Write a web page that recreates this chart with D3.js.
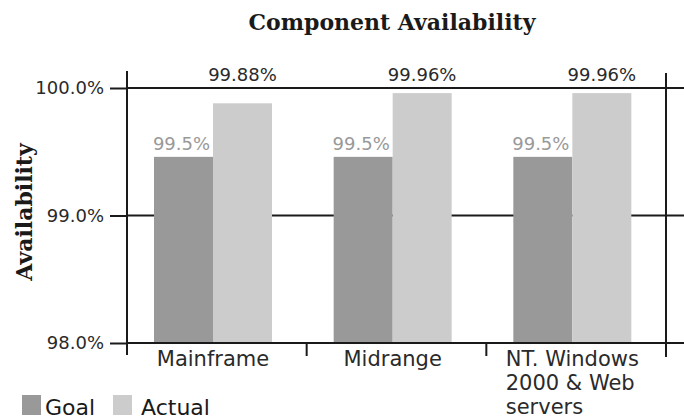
<!DOCTYPE html>
<html lang="en">
<head>
  <meta charset="UTF-8">
  <title>Component Availability</title>
  <script src="https://d3js.org/d3.v7.min.js"></script>
  <style>
    body { margin: 0; background: #fff; }
    svg { display: block; }
    .num { font-family: "DejaVu Sans", sans-serif; font-size: 18px; }
    .cat { font-family: "DejaVu Sans", sans-serif; font-size: 21px; fill: #2a2a2a; }
    .serif { font-family: "DejaVu Serif", serif; font-weight: bold; font-size: 22px; fill: #1a1a1a; }
  </style>
</head>
<body>
<div id="chart"></div>
<script>
  // data
  const categories = ["Mainframe", "Midrange", "NT. Windows 2000 & Web servers"];
  const categoryLines = [["Mainframe"], ["Midrange"], ["NT. Windows", "2000 & Web", "servers"]];
  const series = ["Goal", "Actual"];
  const goalValues = [99.46, 99.46, 99.46];
  const actualValues = [99.88, 99.96, 99.96];
  const yTicks = [98, 99, 100];

  const width = 684, height = 419;
  const colors = { Goal: "#999999", Actual: "#cccccc" };
  const lineColor = "#1a1a1a";
  const lineW = 2;

  const svg = d3.select("#chart").append("svg")
    .attr("width", width)
    .attr("height", height);

  const x0 = d3.scaleBand().domain(categories).range([127, 666]);
  const x1 = d3.scaleBand().domain(series).range([27, 145]);
  const y = d3.scaleLinear().domain([98, 100]).range([343, 88]);

  // title
  svg.append("text")
    .attr("class", "serif")
    .attr("x", 392).attr("y", 30)
    .attr("text-anchor", "middle")
    .text("Component Availability");

  // y axis title
  svg.append("text")
    .attr("class", "serif")
    .attr("transform", "translate(32,212) rotate(-90)")
    .attr("text-anchor", "middle")
    .text("Availability");

  // gridlines (behind bars), run past the right axis
  svg.append("g").selectAll("line")
    .data(yTicks)
    .join("line")
    .attr("x1", 127).attr("x2", width)
    .attr("y1", d => y(d)).attr("y2", d => y(d))
    .attr("stroke", lineColor).attr("stroke-width", lineW);

  // bars
  const rows = categories.map((c, i) => ({ cat: c, Goal: goalValues[i], Actual: actualValues[i] }));
  const groups = svg.append("g").selectAll("g")
    .data(rows)
    .join("g")
    .attr("transform", d => `translate(${x0(d.cat)},0)`);

  groups.selectAll("rect")
    .data(d => series.map(s => ({ key: s, value: d[s] })))
    .join("rect")
    .attr("x", d => x1(d.key))
    .attr("width", x1.bandwidth())
    .attr("y", d => y(d.value))
    .attr("height", d => y(98) - y(d.value) - 1)
    .attr("fill", d => colors[d.key]);

  // value labels
  groups.append("text")
    .attr("class", "num")
    .attr("x", x1("Goal") + x1.bandwidth() / 2 - 2)
    .attr("y", d => y(d.Goal) - 7)
    .attr("text-anchor", "middle")
    .attr("fill", "#999")
    .text(d => d3.format(".1f")(d.Goal) + "%");

  groups.append("text")
    .attr("class", "num")
    .attr("x", x1("Actual") + x1.bandwidth() / 2)
    .attr("y", y(100) - 7)
    .attr("text-anchor", "middle")
    .attr("fill", "#2a2a2a")
    .text(d => d3.format(".2f")(d.Actual) + "%");

  // y axis ticks and labels
  const yAxis = svg.append("g")
    .attr("transform", "translate(127,0)")
    .call(d3.axisLeft(y).tickValues(yTicks).tickSize(17).tickPadding(6)
      .tickFormat(d => d3.format(".1f")(d) + "%"));
  yAxis.select(".domain").remove();
  yAxis.selectAll(".tick line").attr("stroke", lineColor).attr("stroke-width", lineW);
  yAxis.selectAll(".tick text")
    .attr("class", "num")
    .attr("fill", "#2a2a2a");
  yAxis.attr("font-size", null).attr("font-family", null);

  // left and right axis lines
  svg.append("line").attr("x1", 127).attr("x2", 127).attr("y1", 71).attr("y2", 355)
    .attr("stroke", lineColor).attr("stroke-width", lineW);
  svg.append("line").attr("x1", 666).attr("x2", 666).attr("y1", 73).attr("y2", 357)
    .attr("stroke", lineColor).attr("stroke-width", lineW);

  // category separators
  svg.append("g").selectAll("line")
    .data(categories.slice(1))
    .join("line")
    .attr("x1", d => x0(d)).attr("x2", d => x0(d))
    .attr("y1", y(98)).attr("y2", 356)
    .attr("stroke", lineColor).attr("stroke-width", lineW);

  // category labels, multi-line ones left aligned as a block
  categories.forEach((c, i) => {
    const cx = x0(c) + x1("Actual");
    const t = svg.append("text").attr("class", "cat").attr("y", 366);
    categoryLines[i].forEach((line, j) => {
      t.append("tspan").attr("x", 0).attr("dy", j === 0 ? 0 : 24).text(line);
    });
    const w = d3.max(t.selectAll("tspan").nodes(), n => n.getComputedTextLength());
    t.selectAll("tspan").attr("x", cx - w / 2);
  });

  // legend
  const legendX = [22, 113];
  const legend = svg.append("g").selectAll("g")
    .data(series)
    .join("g")
    .attr("transform", (d, i) => `translate(${legendX[i]},395)`);
  legend.append("rect")
    .attr("width", 19).attr("height", 20)
    .attr("fill", d => colors[d]);
  legend.append("text")
    .attr("x", (d, i) => i === 0 ? 23 : 28)
    .attr("y", 20)
    .attr("font-family", "DejaVu Sans, sans-serif")
    .attr("font-size", 22)
    .attr("fill", "#1a1a1a")
    .text(d => d);
</script>
</body>
</html>
